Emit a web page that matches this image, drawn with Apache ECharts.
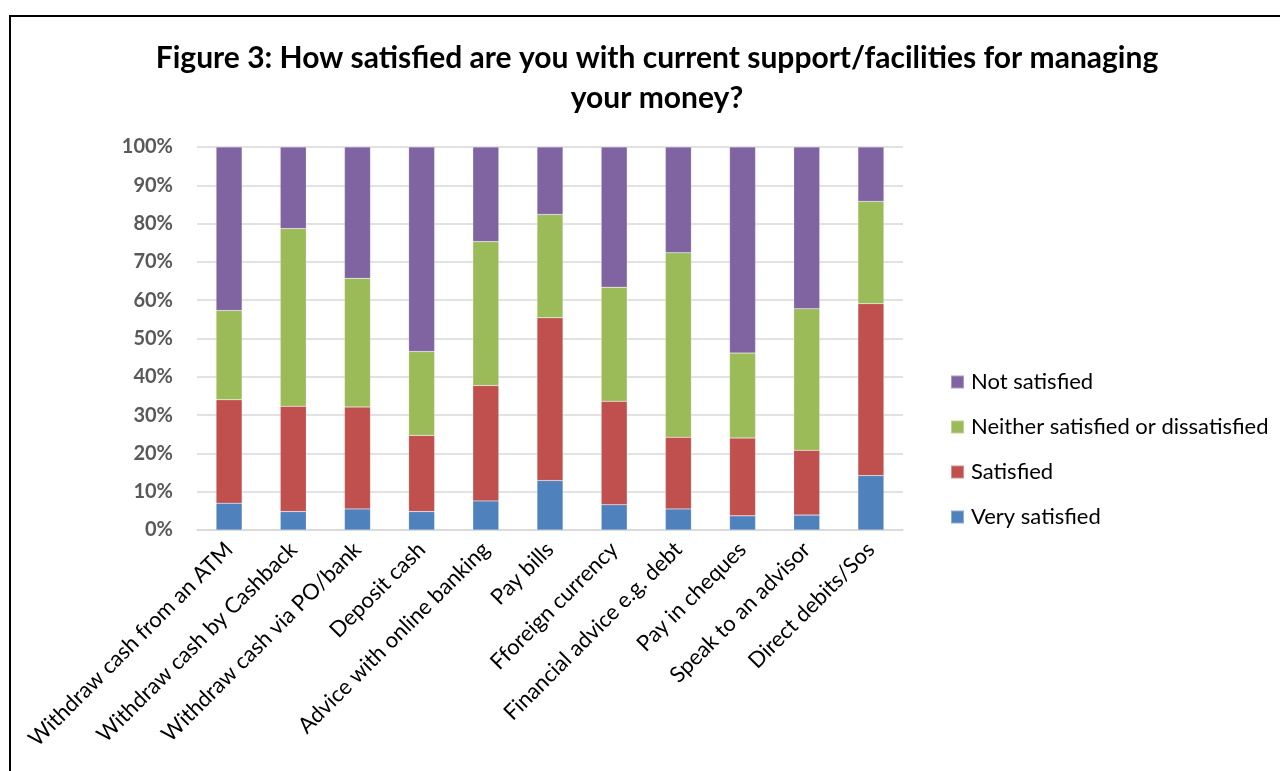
<!DOCTYPE html>
<html>
<head>
<meta charset="utf-8">
<script src="https://cdn.jsdelivr.net/npm/echarts@6/dist/echarts.min.js"></script>
<style>
  html, body { margin: 0; padding: 0; background: #fff; }
  #chart { width: 1280px; height: 771px; }
</style>
</head>
<body>
<div id="chart"></div>
<script>
// Survey categories along the x axis
const categories = [
  'Withdraw cash from an ATM',
  'Withdraw cash by Cashback',
  'Withdraw cash via PO/bank',
  'Deposit cash',
  'Advice with online banking',
  'Pay bills',
  'Fforeign currency',
  'Financial advice e.g. debt',
  'Pay in cheques',
  'Speak to an advisor',
  'Direct debits/Sos'
];

// Share of respondents (%) per answer
const verySatisfied = [7.0, 4.8, 5.5, 4.8, 7.6, 12.9, 6.6, 5.5, 3.7, 3.9, 14.2];
const satisfied     = [27.0, 27.5, 26.6, 19.9, 30.1, 42.5, 27.0, 18.7, 20.3, 16.9, 44.9];
const neither       = [23.3, 46.4, 33.6, 21.9, 37.6, 27.0, 29.8, 48.2, 22.2, 37.0, 26.7];
const notSatisfied  = [42.7, 21.3, 34.3, 53.4, 24.7, 17.6, 36.6, 27.6, 53.8, 42.2, 14.2];

const seriesNames = ['Very satisfied', 'Satisfied', 'Neither satisfied or dissatisfied', 'Not satisfied'];
const yTicks = [0, 10, 20, 30, 40, 50, 60, 70, 80, 90, 100];

const FONT = 'Lato, "Open Sans", sans-serif';
const colors = ['#4F81BD', '#C0504D', '#9BBB59', '#8064A2'];
const values = [verySatisfied, satisfied, neither, notSatisfied];

const chart = echarts.init(document.getElementById('chart'));
chart.setOption({
  animation: false,
  textStyle: { fontFamily: FONT },
  title: {
    text: 'Figure 3: How satisfied are you with current support/facilities for managing\nyour money?',
    left: 652,
    top: 33,
    textAlign: 'center',
    textStyle: { fontFamily: FONT, fontSize: 30, fontWeight: 'bold', color: '#000', lineHeight: 40 }
  },
  graphic: [{
    type: 'rect',
    shape: { x: 10, y: 16, width: 1300, height: 800 },
    style: { fill: 'none', stroke: '#000', lineWidth: 2 },
    silent: true
  }],
  legend: {
    orient: 'vertical',
    left: 945,
    top: 364,
    itemWidth: 13,
    itemHeight: 13,
    itemGap: 19,
    icon: 'rect',
    data: seriesNames.slice().reverse(),
    textStyle: { fontFamily: FONT, fontSize: 22, color: '#000', padding: [0, 0, 0, 2], lineHeight: 26 }
  },
  grid: { left: 197, right: 377, top: 147, bottom: 241 },
  xAxis: {
    type: 'category',
    data: categories,
    axisLine: { lineStyle: { color: '#d9d9d9', width: 1.5 } },
    axisTick: { show: false },
    axisLabel: { rotate: 45, fontSize: 22, color: '#000', fontFamily: FONT, margin: 16, interval: 0 }
  },
  yAxis: {
    type: 'value',
    min: yTicks[0],
    max: yTicks[yTicks.length - 1],
    interval: yTicks[1] - yTicks[0],
    axisLine: { show: false },
    axisTick: { show: false },
    splitLine: { lineStyle: { color: '#d9d9d9', width: 1.5 } },
    axisLabel: { formatter: '{value}%', fontSize: 20, fontWeight: 'bold', color: '#595959', fontFamily: FONT, margin: 24 }
  },
  series: seriesNames.map((name, i) => ({
    name,
    type: 'bar',
    stack: 'total',
    barWidth: 26,
    data: values[i],
    itemStyle: { color: colors[i], borderColor: 'rgba(255,255,255,0.35)', borderWidth: 0.5 }
  }))
});
</script>
</body>
</html>
